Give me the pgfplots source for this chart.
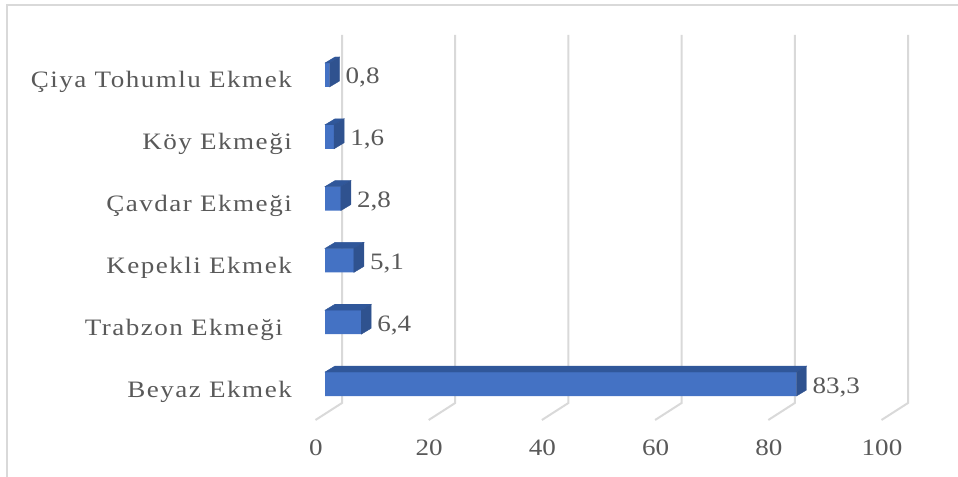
\documentclass[border=0pt]{standalone}
\usepackage{fontspec}
\setmainfont{Liberation Serif}[FakeStretch=1.15]
\newfontfamily\catfont{Liberation Serif}[FakeStretch=1.15, LetterSpace=6.4]
\newfontfamily\numfont{Liberation Serif}[FakeStretch=1.15]
\usepackage{pgfplots}
\usepackage{pgfplotstable}
\pgfplotsset{compat=1.18}
\definecolor{barfront}{HTML}{4472C4}
\definecolor{barside}{HTML}{2F528F}
\definecolor{bartop}{HTML}{30579A}
\definecolor{gridgray}{HTML}{D9D9D9}
\definecolor{labelgray}{HTML}{595959}

% Bread types (share, %), bottom to top
\pgfplotstableread{
pos val lab
0 83.3 83,3
1 6.4 6,4
2 5.1 5,1
3 2.8 2,8
4 1.6 1,6
5 0.8 0,8
}\breadshare

\newcommand{\lblsize}{\fontsize{23.6}{28}\selectfont}

\begin{document}
\begin{tikzpicture}
\useasboundingbox (0,0) rectangle (958bp,477bp);
% chart area frame
\draw[gridgray, line width=2bp] (7bp,-5bp) -- (7bp,472bp) -- (965bp,472bp);
\begin{axis}[
  at={(325bp,74bp)}, anchor=south west,
  scale only axis, width=566bp, height=368bp,
  xmin=0, xmax=100, ymin=-0.307, ymax=5.647,
  clip=false,
  axis line style={draw=none},
  tick style={draw=none},
  xtick={0,20,...,100},
  ytick={0,...,5},
  yticklabels={Beyaz Ekmek, Trabzon Ekmeği\hspace*{9bp}, Kepekli Ekmek, Çavdar Ekmeği, Köy Ekmeği, Çiya Tohumlu Ekmek},
  /pgf/number format/assume math mode=true,
  xticklabel style={anchor=base, inner sep=0pt, xshift=-9bp, yshift=-52bp,
    font=\numfont\lblsize, text=labelgray},
  yticklabel style={anchor=base east, inner sep=0pt, xshift=-33bp, yshift=-13bp,
    font=\catfont\lblsize, text=labelgray},
]
% back wall gridlines with the floor edge
\pgfplotsinvokeforeach{0,20,40,60,80,100}{
  \draw[gridgray, line width=2bp]
    ([xshift=17bp]axis cs:#1,5.647) -- ([xshift=17bp]axis cs:#1,-0.307)
    -- ([xshift=-9.5bp,yshift=-17bp]axis cs:#1,-0.307);
}
% front faces of the bars with value labels
\addplot[xbar, bar width=24bp, fill=barfront, draw=none,
  point meta=explicit symbolic,
  nodes near coords={\pgfplotspointmeta},
  nodes near coords style={anchor=base west, inner sep=0pt, xshift=16bp, yshift=-9bp,
    font=\numfont\lblsize, text=labelgray}]
  table[x=val, y=pos, meta=lab] {\breadshare};
% top and side faces of the bars
\addplot[only marks, scatter, mark=*, mark size=0pt,
  mark options={draw=none, fill=none},
  visualization depends on={rawx \as \barval},
  scatter/@pre marker code/.code={
    \fill[bartop] ({-\barval*5.681pt},12bp) -- (0pt,12bp) -- (10bp,18bp)
      -- ({-\barval*5.681pt+10bp},18bp) -- cycle;
    \fill[barside] (0pt,-12bp) -- (0pt,12bp) -- (10bp,18bp) -- (10bp,-6bp) -- cycle;
  },
  scatter/@post marker code/.code={}]
  table[x=val, y=pos] {\breadshare};
\end{axis}
\end{tikzpicture}
\end{document}
